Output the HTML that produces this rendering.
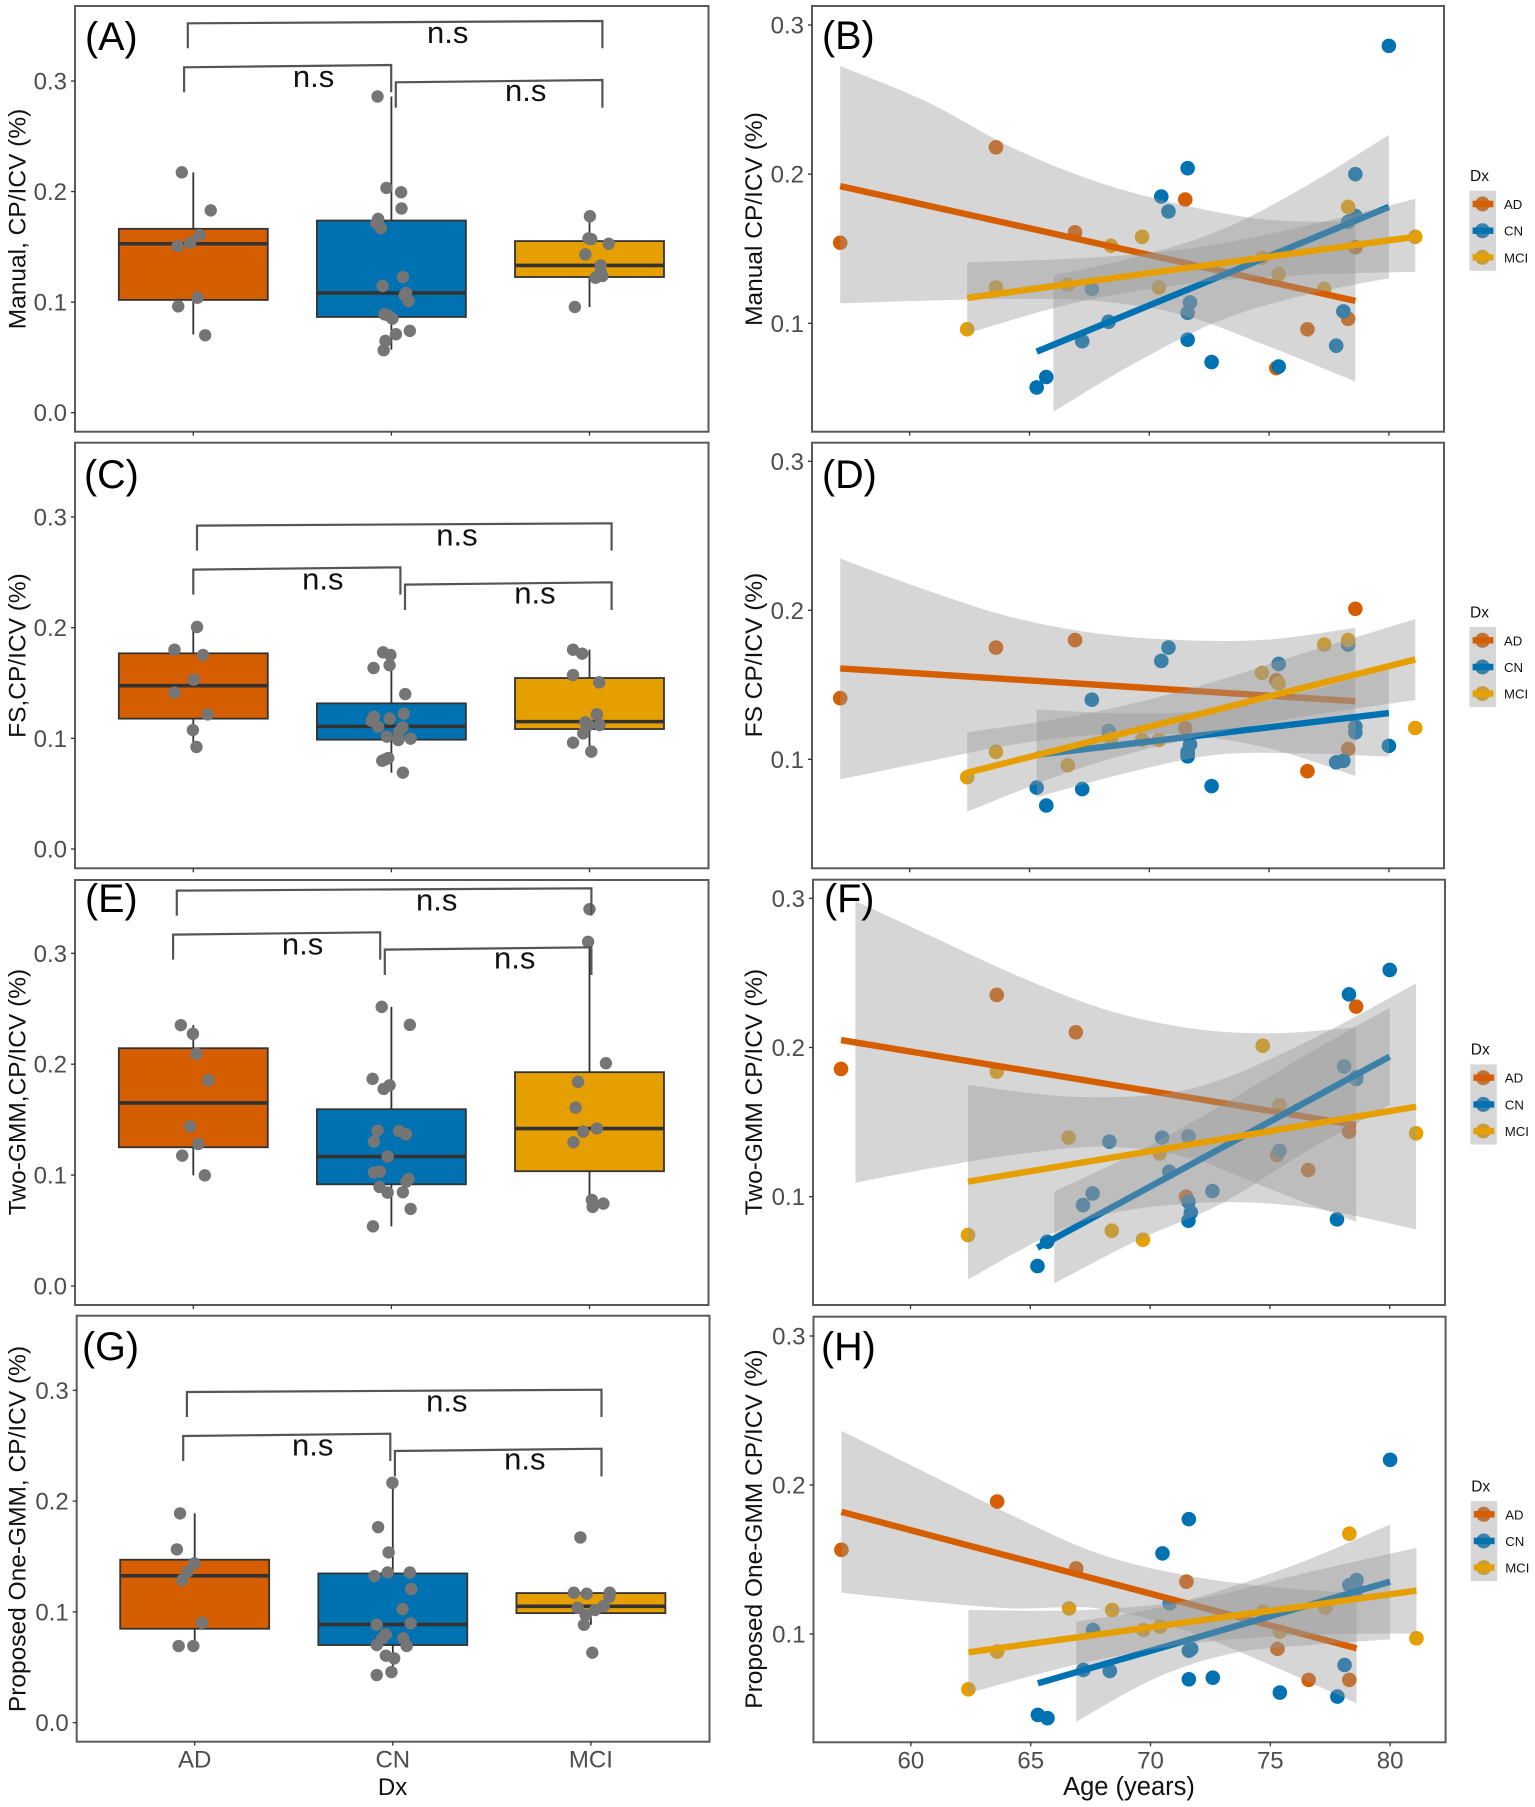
<!DOCTYPE html>
<html lang="en">
<head>
<meta charset="utf-8">
<title>CP/ICV by diagnosis and age</title>
<style>
html,body{margin:0;padding:0;background:#fff;}
svg{display:block;}
text{font-family:"Liberation Sans",Arial,sans-serif;}
.title{font-size:24.5px;fill:#111;}
.letter{font-size:39.5px;fill:#000;}
.ns{font-size:31px;fill:#111;text-anchor:middle;}
.bracket{fill:none;stroke:#555;stroke-width:2.2;}
.lt{font-size:15.5px;fill:#111;}
.ll{font-size:13.2px;fill:#111;}
.xt{font-size:24px;fill:#111;text-anchor:middle;}
</style>
</head>
<body>
<svg id="figure" xmlns="http://www.w3.org/2000/svg" width="1535" height="1807" viewBox="0 0 1535 1807">
<rect width="1535" height="1807" fill="#fff"/>
<g id="plots"></g>

<text class="letter" x="85" y="50">(A)</text>
<text class="letter" x="822" y="49">(B)</text>
<text class="letter" x="84" y="488">(C)</text>
<text class="letter" x="822" y="488">(D)</text>
<text class="letter" x="85" y="912">(E)</text>
<text class="letter" x="824" y="912">(F)</text>
<text class="letter" x="82" y="1360">(G)</text>
<text class="letter" x="821" y="1360">(H)</text>

<text class="title" text-anchor="middle" transform="translate(25.5,219) rotate(-90)">Manual, CP/ICV (%)</text>
<text class="title" text-anchor="middle" transform="translate(25.5,655.5) rotate(-90)">FS,CP/ICV (%)</text>
<text class="title" text-anchor="middle" transform="translate(25.5,1092) rotate(-90)">Two-GMM,CP/ICV (%)</text>
<text class="title" text-anchor="middle" transform="translate(25.5,1529) rotate(-90)">Proposed One-GMM, CP/ICV (%)</text>
<text class="title" text-anchor="middle" transform="translate(762,219) rotate(-90)">Manual CP/ICV (%)</text>
<text class="title" text-anchor="middle" transform="translate(762,655) rotate(-90)">FS CP/ICV (%)</text>
<text class="title" text-anchor="middle" transform="translate(762,1092) rotate(-90)">Two-GMM CP/ICV (%)</text>
<text class="title" text-anchor="middle" transform="translate(762,1529) rotate(-90)">Proposed One-GMM CP/ICV (%)</text>

<text class="xt" x="392.6" y="1795">Dx</text>
<text class="xt" x="1129" y="1795" style="font-size:25.5px">Age (years)</text>

<g id="annot-a">
<path class="bracket" d="M187.8 48.3V23.3L602.4 21V48.3"/>
<path class="bracket" d="M184.1 92.3V67.3L391.2 65V92.3"/>
<path class="bracket" d="M395.8 107.7V82.3L602.4 80V107.7"/>
<text class="ns" x="447.7" y="43">n.s</text>
<text class="ns" x="313.6" y="87">n.s</text>
<text class="ns" x="525.7" y="101">n.s</text>
</g>
<g id="annot-c" transform="translate(9.2,502.3)">
<path class="bracket" d="M187.8 48.3V23.3L602.4 21V48.3"/>
<path class="bracket" d="M184.1 92.3V67.3L391.2 65V92.3"/>
<path class="bracket" d="M395.8 107.7V82.3L602.4 80V107.7"/>
<text class="ns" x="447.7" y="43">n.s</text>
<text class="ns" x="313.6" y="87">n.s</text>
<text class="ns" x="525.7" y="101">n.s</text>
</g>
<g id="annot-e" transform="translate(-11,867.3)">
<path class="bracket" d="M187.8 48.3V23.3L602.4 21V48.3"/>
<path class="bracket" d="M184.1 92.3V67.3L391.2 65V92.3"/>
<path class="bracket" d="M395.8 107.7V82.3L602.4 80V107.7"/>
<text class="ns" x="447.7" y="43">n.s</text>
<text class="ns" x="313.6" y="87">n.s</text>
<text class="ns" x="525.7" y="101">n.s</text>
</g>
<g id="annot-g" transform="translate(-0.9,1368.7)">
<path class="bracket" d="M187.8 48.3V23.3L602.4 21V48.3"/>
<path class="bracket" d="M184.1 92.3V67.3L391.2 65V92.3"/>
<path class="bracket" d="M395.8 107.7V82.3L602.4 80V107.7"/>
<text class="ns" x="447.7" y="43">n.s</text>
<text class="ns" x="313.6" y="87">n.s</text>
<text class="ns" x="525.7" y="101">n.s</text>
</g>

<g id="legend-b">
<text class="lt" x="1470" y="181">Dx</text>
<g><circle cx="1482.5" cy="204" r="7.5" fill="#D55E00"/><rect x="1469.5" y="190.7" width="26.5" height="26.7" fill="#999" fill-opacity=".4"/><line x1="1472.6" x2="1493.4" y1="204" y2="204" stroke="#D55E00" stroke-width="6.4"/><text class="ll" x="1504" y="209">AD</text></g>
<g><circle cx="1482.5" cy="230.7" r="7.5" fill="#0072B2"/><rect x="1469.5" y="217.4" width="26.5" height="26.7" fill="#999" fill-opacity=".4"/><line x1="1472.6" x2="1493.4" y1="230.7" y2="230.7" stroke="#0072B2" stroke-width="6.4"/><text class="ll" x="1504" y="235.7">CN</text></g>
<g><circle cx="1482.5" cy="257.3" r="7.5" fill="#E69F00"/><rect x="1469.5" y="244.1" width="26.5" height="26.7" fill="#999" fill-opacity=".4"/><line x1="1472.6" x2="1493.4" y1="257.3" y2="257.3" stroke="#E69F00" stroke-width="6.4"/><text class="ll" x="1504" y="262.3">MCI</text></g>
</g>
<g id="legend-d" transform="translate(0,436.3)">
<text class="lt" x="1470" y="181">Dx</text>
<g><circle cx="1482.5" cy="204" r="7.5" fill="#D55E00"/><rect x="1469.5" y="190.7" width="26.5" height="26.7" fill="#999" fill-opacity=".4"/><line x1="1472.6" x2="1493.4" y1="204" y2="204" stroke="#D55E00" stroke-width="6.4"/><text class="ll" x="1504" y="209">AD</text></g>
<g><circle cx="1482.5" cy="230.7" r="7.5" fill="#0072B2"/><rect x="1469.5" y="217.4" width="26.5" height="26.7" fill="#999" fill-opacity=".4"/><line x1="1472.6" x2="1493.4" y1="230.7" y2="230.7" stroke="#0072B2" stroke-width="6.4"/><text class="ll" x="1504" y="235.7">CN</text></g>
<g><circle cx="1482.5" cy="257.3" r="7.5" fill="#E69F00"/><rect x="1469.5" y="244.1" width="26.5" height="26.7" fill="#999" fill-opacity=".4"/><line x1="1472.6" x2="1493.4" y1="257.3" y2="257.3" stroke="#E69F00" stroke-width="6.4"/><text class="ll" x="1504" y="262.3">MCI</text></g>
</g>
<g id="legend-f" transform="translate(0.8,873.7)">
<text class="lt" x="1470" y="181">Dx</text>
<g><circle cx="1482.5" cy="204" r="7.5" fill="#D55E00"/><rect x="1469.5" y="190.7" width="26.5" height="26.7" fill="#999" fill-opacity=".4"/><line x1="1472.6" x2="1493.4" y1="204" y2="204" stroke="#D55E00" stroke-width="6.4"/><text class="ll" x="1504" y="209">AD</text></g>
<g><circle cx="1482.5" cy="230.7" r="7.5" fill="#0072B2"/><rect x="1469.5" y="217.4" width="26.5" height="26.7" fill="#999" fill-opacity=".4"/><line x1="1472.6" x2="1493.4" y1="230.7" y2="230.7" stroke="#0072B2" stroke-width="6.4"/><text class="ll" x="1504" y="235.7">CN</text></g>
<g><circle cx="1482.5" cy="257.3" r="7.5" fill="#E69F00"/><rect x="1469.5" y="244.1" width="26.5" height="26.7" fill="#999" fill-opacity=".4"/><line x1="1472.6" x2="1493.4" y1="257.3" y2="257.3" stroke="#E69F00" stroke-width="6.4"/><text class="ll" x="1504" y="262.3">MCI</text></g>
</g>
<g id="legend-h" transform="translate(1.2,1310.3)">
<text class="lt" x="1470" y="181">Dx</text>
<g><circle cx="1482.5" cy="204" r="7.5" fill="#D55E00"/><rect x="1469.5" y="190.7" width="26.5" height="26.7" fill="#999" fill-opacity=".4"/><line x1="1472.6" x2="1493.4" y1="204" y2="204" stroke="#D55E00" stroke-width="6.4"/><text class="ll" x="1504" y="209">AD</text></g>
<g><circle cx="1482.5" cy="230.7" r="7.5" fill="#0072B2"/><rect x="1469.5" y="217.4" width="26.5" height="26.7" fill="#999" fill-opacity=".4"/><line x1="1472.6" x2="1493.4" y1="230.7" y2="230.7" stroke="#0072B2" stroke-width="6.4"/><text class="ll" x="1504" y="235.7">CN</text></g>
<g><circle cx="1482.5" cy="257.3" r="7.5" fill="#E69F00"/><rect x="1469.5" y="244.1" width="26.5" height="26.7" fill="#999" fill-opacity=".4"/><line x1="1472.6" x2="1493.4" y1="257.3" y2="257.3" stroke="#E69F00" stroke-width="6.4"/><text class="ll" x="1504" y="262.3">MCI</text></g>
</g>
</svg>

<script>
// ---------- shared categories, ticks ----------
const categories = ['AD', 'CN', 'MCI'];
const leftYTicks = [0, 0.1, 0.2, 0.3];
const rightYTicks = [0.1, 0.2, 0.3];
const ageTicks = [60, 65, 70, 75, 80];
const groupColors = ['#D55E00', '#0072B2', '#E69F00'];
const scatterYMax = 0.3; // the age panels drop values above this limit

// ---------- box panels: stats are [whisker low, q1, median, q3, whisker high] ----------
const aAdBox = [0.0707, 0.102, 0.1528, 0.1663, 0.2174];
const aCnBox = [0.0571, 0.0866, 0.1083, 0.1738, 0.286];
const aMciBox = [0.0956, 0.1227, 0.1332, 0.1552, 0.1777];
const aAdValues = [0.2174, 0.183, 0.1606, 0.1537, 0.1507, 0.104, 0.0962, 0.07];
const aAdJitter = [-0.058, 0.088, 0.032, -0.016, -0.079, 0.021, -0.076, 0.06];
const aCnValues = [0.286, 0.2033, 0.1994, 0.1847, 0.1753, 0.1714, 0.1669, 0.1227, 0.1146, 0.1083, 0.1062, 0.1011, 0.089, 0.0881, 0.0851, 0.071, 0.074, 0.065, 0.0565];
const aCnJitter = [-0.07, -0.025, 0.049, 0.051, -0.067, -0.076, -0.053, 0.058, -0.044, 0.074, 0.067, 0.086, -0.035, -0.019, 0.005, 0.023, 0.093, -0.03, -0.039];
const aMciValues = [0.1777, 0.1576, 0.157, 0.1528, 0.1432, 0.1332, 0.1272, 0.1227, 0.1236, 0.1221, 0.0956];
const aMciJitter = [0.002, -0.005, 0.009, 0.097, -0.021, 0.056, 0.056, 0.037, 0.065, 0.03, -0.074];

const cAdBox = [0.0922, 0.1178, 0.1476, 0.1768, 0.2006];
const cCnBox = [0.069, 0.0988, 0.1108, 0.1316, 0.1777];
const cMciBox = [0.088, 0.1084, 0.1151, 0.1545, 0.1801];
const cAdValues = [0.2006, 0.1801, 0.1753, 0.153, 0.1413, 0.1217, 0.1075, 0.0922];
const cAdJitter = [0.019, -0.095, 0.049, 0.002, -0.095, 0.072, -0.002, 0.016];
const cCnValues = [0.1777, 0.1753, 0.166, 0.1636, 0.14, 0.1223, 0.1196, 0.1178, 0.1157, 0.1105, 0.11, 0.106, 0.1015, 0.0985, 0.0997, 0.0822, 0.0798, 0.069, 0.081];
const cCnJitter = [-0.042, -0.005, -0.009, -0.09, 0.07, 0.063, -0.088, -0.009, -0.1, -0.067, 0.056, 0.039, -0.023, 0.035, 0.097, -0.016, -0.046, 0.058, -0.03];
const cMciValues = [0.1801, 0.1765, 0.1572, 0.1506, 0.1217, 0.1145, 0.112, 0.112, 0.1045, 0.0961, 0.088];
const cMciJitter = [-0.083, -0.037, -0.083, 0.049, 0.037, -0.021, -0.005, 0.051, -0.032, -0.083, 0.009];

const eAdBox = [0.0998, 0.1251, 0.1651, 0.2144, 0.2352];
const eCnBox = [0.0538, 0.0917, 0.1167, 0.1594, 0.2517];
const eMciBox = [0.0713, 0.1035, 0.142, 0.1928, 0.3104];
const eAdValues = [0.2352, 0.2274, 0.2096, 0.1856, 0.1438, 0.1281, 0.1176, 0.0998];
const eAdJitter = [-0.063, -0.002, 0.016, 0.076, -0.016, 0.025, -0.056, 0.058];
const eCnValues = [0.2517, 0.2355, 0.1868, 0.181, 0.1777, 0.1402, 0.1398, 0.1368, 0.1302, 0.1167, 0.1023, 0.1032, 0.0965, 0.0941, 0.0893, 0.0842, 0.0845, 0.0695, 0.0538];
const eCnJitter = [-0.049, 0.093, -0.095, -0.009, -0.039, -0.07, 0.039, 0.074, -0.088, -0.019, -0.088, -0.058, 0.086, 0.076, -0.06, -0.019, 0.058, 0.097, -0.093];
const eMciValues = [0.3398, 0.3104, 0.2009, 0.1841, 0.1609, 0.142, 0.1392, 0.1296, 0.0776, 0.0743, 0.0713];
const eMciJitter = [0, -0.007, 0.083, -0.058, -0.07, 0.037, -0.032, -0.081, 0.012, 0.07, 0.016];

const gAdBox = [0.0692, 0.0848, 0.1326, 0.1471, 0.1889];
const gCnBox = [0.043, 0.0701, 0.0887, 0.1347, 0.2165];
const gMciBox = [0.0884, 0.0989, 0.105, 0.117, 0.118];
const gAdValues = [0.1889, 0.1564, 0.1438, 0.1362, 0.1287, 0.0902, 0.0692, 0.0692];
const gAdJitter = [-0.074, -0.09, -0.002, -0.037, -0.063, 0.037, -0.081, -0.007];
const gCnValues = [0.2165, 0.1765, 0.1537, 0.1356, 0.1356, 0.1323, 0.1206, 0.1026, 0.0884, 0.0896, 0.0797, 0.0761, 0.0761, 0.0701, 0.0692, 0.0605, 0.058, 0.0457, 0.043];
const gCnJitter = [-0.002, -0.074, -0.021, 0.086, -0.026, -0.093, 0.093, 0.049, -0.081, 0.09, -0.035, -0.053, 0.053, -0.081, 0.07, -0.035, 0.007, -0.007, -0.081];
const gMciValues = [0.1672, 0.1173, 0.1164, 0.1173, 0.1137, 0.1053, 0.1038, 0.1017, 0.0971, 0.0884, 0.0632];
const gMciJitter = [-0.053, -0.086, -0.021, 0.095, 0.093, 0.065, -0.067, 0.021, -0.026, -0.035, 0.007];

// ---------- scatter panels: subject ages ----------
const adAges = [57.1, 63.6, 66.9, 71.5, 75.3, 76.6, 78.3, 78.6];
const cnAges = [65.3, 65.7, 67.2, 67.6, 68.3, 70.5, 70.8, 71.6, 71.6, 71.6, 71.7, 72.6, 75.4, 77.8, 78.1, 78.3, 78.6, 78.6, 80];
const mciAges = [62.4, 63.6, 66.6, 68.4, 69.7, 70.4, 74.7, 75.4, 77.3, 78.3, 81.1];
const adFitAges = [57.1, 78.6];
const cnFitAges = [65.3, 80];
const mciFitAges = [62.4, 81.1];

// panel B
const bAd = [0.154, 0.218, 0.161, 0.183, 0.07, 0.096, 0.103, 0.151];
const bCn = [0.057, 0.064, 0.088, 0.123, 0.101, 0.185, 0.175, 0.204, 0.107, 0.089, 0.114, 0.074, 0.071, 0.085, 0.108, 0.168, 0.2, 0.172, 0.286];
const bMci = [0.096, 0.124, 0.126, 0.152, 0.158, 0.124, 0.144, 0.133, 0.123, 0.178, 0.158];
const bAdFit = [0.192, 0.115];
const bCnFit = [0.081, 0.178];
const bMciFit = [0.117, 0.158];
const bAdBandAges = [57.1, 60.7, 64.2, 67.8, 71.4, 75, 78.6];
const bAdUpper = [0.2725, 0.2486, 0.2184, 0.195, 0.1793, 0.1693, 0.1682];
const bAdLower = [0.1134, 0.1152, 0.1163, 0.115, 0.1056, 0.0844, 0.0609];
const bCnBandAges = [66, 69.5, 73, 76.5, 80];
const bCnUpper = [0.132, 0.1447, 0.1626, 0.1916, 0.2263];
const bCnLower = [0.0408, 0.0743, 0.1022, 0.119, 0.1302];
const bMciBandAges = [62.4, 67.1, 71.75, 76.4, 81.1];
const bMciUpper = [0.1409, 0.1436, 0.1503, 0.1648, 0.1834];
const bMciLower = [0.0933, 0.1145, 0.1268, 0.1324, 0.1346];

// panel D
const dAd = [0.141, 0.175, 0.18, 0.121, 0.153, 0.092, 0.107, 0.201];
const dCn = [0.081, 0.069, 0.08, 0.14, 0.119, 0.166, 0.175, 0.105, 0.102, 0.104, 0.11, 0.082, 0.164, 0.098, 0.099, 0.177, 0.122, 0.118, 0.109];
const dMci = [0.088, 0.105, 0.096, 0.114, 0.113, 0.113, 0.158, 0.151, 0.177, 0.18, 0.121];
const dAdFit = [0.161, 0.139];
const dCnFit = [0.103, 0.131];
const dMciFit = [0.091, 0.167];
const dAdBandAges = [57.1, 60.7, 64.2, 67.8, 71.4, 75, 78.6];
const dAdUpper = [0.2347, 0.2135, 0.1956, 0.1845, 0.18, 0.1804, 0.1883];
const dAdLower = [0.0866, 0.0984, 0.1096, 0.1163, 0.1163, 0.1074, 0.0888];
const dCnBandAges = [65.3, 69, 72.7, 76.3, 80];
const dCnUpper = [0.1335, 0.1308, 0.1331, 0.1443, 0.161];
const dCnLower = [0.0745, 0.0906, 0.1029, 0.104, 0.1018];
const dMciBandAges = [62.4, 67.1, 71.75, 76.4, 81.1];
const dMciUpper = [0.1181, 0.1297, 0.1476, 0.1711, 0.1941];
const dMciLower = [0.0649, 0.094, 0.1141, 0.1286, 0.1398];

// panel F
const fAd = [0.1856, 0.2352, 0.2102, 0.1, 0.1279, 0.1179, 0.1436, 0.2274];
const fCn = [0.0535, 0.0698, 0.0944, 0.1022, 0.1369, 0.1396, 0.1168, 0.1404, 0.0966, 0.0839, 0.0895, 0.1038, 0.1308, 0.0848, 0.1872, 0.2356, 0.1789, 0.18, 0.252];
const fMci = [0.0743, 0.1838, 0.1396, 0.0772, 0.0712, 0.129, 0.2012, 0.1615, 0.31, 0.34, 0.1425];
const fAdFit = [0.205, 0.148];
const fCnFit = [0.0658, 0.1939];
const fMciFit = [0.1101, 0.1603];
const fAdBandAges = [57.7, 61.2, 64.7, 68.2, 71.7, 75.1, 78.6];
const fAdUpper = [0.2982, 0.2721, 0.2464, 0.2251, 0.2128, 0.2095, 0.2135];
const fAdLower = [0.1094, 0.1201, 0.129, 0.1335, 0.1257, 0.1045, 0.0832];
const fCnBandAges = [66, 69.5, 73, 76.5, 80];
const fCnUpper = [0.1034, 0.1302, 0.1615, 0.195, 0.2267];
const fCnLower = [0.0419, 0.071, 0.0955, 0.1302, 0.1615];
const fMciBandAges = [62.4, 67.1, 71.75, 76.4, 81.1];
const fMciUpper = [0.1749, 0.1668, 0.1726, 0.2028, 0.243];
const fMciLower = [0.0446, 0.0832, 0.0955, 0.0933, 0.0781];

// panel H
const hAd = [0.1565, 0.1889, 0.144, 0.1351, 0.09, 0.0692, 0.0692, 0.13];
const hCn = [0.0457, 0.0435, 0.0759, 0.1027, 0.0752, 0.1541, 0.1206, 0.1771, 0.0696, 0.0888, 0.09, 0.0707, 0.0607, 0.058, 0.0792, 0.1328, 0.1362, 0.13, 0.2169];
const hMci = [0.0629, 0.0882, 0.1172, 0.1161, 0.1027, 0.1049, 0.115, 0.1016, 0.1177, 0.1673, 0.0971];
const hAdFit = [0.182, 0.0904];
const hCnFit = [0.0669, 0.1351];
const hMciFit = [0.0877, 0.1291];
const hAdBandAges = [57.1, 60.7, 64.2, 67.8, 71.4, 75, 78.6];
const hAdUpper = [0.2363, 0.2077, 0.1798, 0.1541, 0.1396, 0.1317, 0.1273];
const hAdLower = [0.1277, 0.1217, 0.1172, 0.1172, 0.1027, 0.0792, 0.0535];
const hCnBandAges = [66.9, 70.2, 73.4, 76.7, 80];
const hCnUpper = [0.1083, 0.1172, 0.1317, 0.1507, 0.1735];
const hCnLower = [0.0412, 0.0703, 0.087, 0.0926, 0.0964];
const hMciBandAges = [62.4, 67.1, 71.75, 76.4, 81.1];
const hMciUpper = [0.1161, 0.1161, 0.1228, 0.1407, 0.1579];
const hMciLower = [0.0602, 0.0803, 0.0937, 0.0993, 0.1004];

// ---------- drawing ----------
const SVGNS = 'http://www.w3.org/2000/svg';
const root = document.getElementById('plots');

function add(parent, tag, attrs) {
  const el = document.createElementNS(SVGNS, tag);
  for (const k in attrs) el.setAttribute(k, attrs[k]);
  parent.appendChild(el);
  return el;
}

function smoothThrough(pts) {
  let d = '';
  for (let i = 0; i < pts.length - 1; i++) {
    const p0 = pts[i - 1] || pts[i], p1 = pts[i], p2 = pts[i + 1], p3 = pts[i + 2] || p2;
    d += 'C' + (p1[0] + (p2[0] - p0[0]) / 6) + ' ' + (p1[1] + (p2[1] - p0[1]) / 6) + ' ' +
      (p2[0] - (p3[0] - p1[0]) / 6) + ' ' + (p2[1] - (p3[1] - p1[1]) / 6) + ' ' + p2[0] + ' ' + p2[1];
  }
  return d;
}

function drawFrame(g, p) {
  const border = add(g, 'rect', {x: p.left, y: p.top, width: p.right - p.left, height: p.bottom - p.top, fill: 'none', stroke: '#5a5a5a', 'stroke-width': 2});
  
  
}

function drawYAxis(g, p, ticks, y, labelX) {
  ticks.forEach(t => {
    const tick = add(g, 'line', {x1: p.left - 4, x2: p.left, y1: y(t), y2: y(t), stroke: '#333', 'stroke-width': 1.3});
    
    
    const label = add(g, 'text', {x: labelX, y: y(t) + 8.5, 'text-anchor': 'end', 'font-size': 24, fill: '#4d4d4d'});
    label.textContent = t.toFixed(1);
    
    
  });
}

function drawBoxPanel(p) {
  const g = add(root, 'g', {});
  
  
  const y = v => p.y0 + (p.y3 - p.y0) * v / 0.3;
  const x = c => p.cat0 + c * 198.1;
  const halfBox = 0.376;
  p.groups.forEach((grp, i) => {
    const [lo, q1, med, q3, hi] = grp.box;
    const whisker = add(g, 'line', {x1: x(i), x2: x(i), y1: y(lo), y2: y(hi), stroke: '#333', 'stroke-width': 1.8});
    
    
    const box = add(g, 'rect', {x: x(i - halfBox), y: y(q3), width: x(i + halfBox) - x(i - halfBox), height: y(q1) - y(q3), fill: groupColors[i], stroke: '#333', 'stroke-width': 1.8});
    
    
    const median = add(g, 'line', {x1: x(i - halfBox), x2: x(i + halfBox), y1: y(med), y2: y(med), stroke: '#333', 'stroke-width': 3.6});
    
    
  });
  p.groups.forEach((grp, i) => {
    grp.values.forEach((v, j) => {
      const dot = add(g, 'circle', {cx: x(i + grp.jitter[j]), cy: y(v), r: 6.2, fill: '#757575'});
      
      
    });
  });
  drawFrame(g, p);
  categories.forEach((c, i) => {
    const tick = add(g, 'line', {x1: x(i), x2: x(i), y1: p.bottom, y2: p.bottom + 4, stroke: '#333', 'stroke-width': 1.3});
    
    
    if (p.showX) {
      const label = add(g, 'text', {x: x(i), y: p.bottom + 26, 'text-anchor': 'middle', 'font-size': 24, fill: '#4d4d4d'});
      label.textContent = c;
      
      
    }
  });
  drawYAxis(g, p, leftYTicks, y, p.left - 8);
}

function drawScatterPanel(p) {
  const g = add(root, 'g', {});
  
  
  const y = v => p.y1 + (p.y3 - p.y1) * (v - 0.1) / 0.2;
  const x = a => p.x60 + (a - 60) * 23.96;
  const clip = add(g, 'clipPath', {id: 'clip-' + p.id});
  add(clip, 'rect', {x: p.left, y: p.top, width: p.right - p.left, height: p.bottom - p.top});
  const plot = add(g, 'g', {'clip-path': 'url(#clip-' + p.id + ')'});
  
  
  p.series.forEach((s, i) => {
    s.values.forEach((v, j) => {
      if (v > scatterYMax) return;
      const dot = add(plot, 'circle', {cx: x(s.ages[j]), cy: y(v), r: 7.3, fill: groupColors[i]});
      
      
    });
  });
  p.series.forEach((s, i) => {
    const up = s.bandAges.map((a, j) => [x(a), y(s.upper[j])]);
    const low = s.bandAges.map((a, j) => [x(a), y(s.lower[j])]).reverse();
    const d = 'M' + up[0].join(' ') + smoothThrough(up) + 'L' + low[0].join(' ') + smoothThrough(low) + 'Z';
    const band = add(plot, 'path', {d: d, fill: '#999999', 'fill-opacity': 0.4});
    
    
    const fit = add(plot, 'line', {x1: x(s.fitAges[0]), x2: x(s.fitAges[1]), y1: y(s.fit[0]), y2: y(s.fit[1]), stroke: groupColors[i], 'stroke-width': 6.4});
    
    
  });
  drawFrame(g, p);
  ageTicks.forEach(a => {
    const tick = add(g, 'line', {x1: x(a), x2: x(a), y1: p.bottom, y2: p.bottom + 4, stroke: '#333', 'stroke-width': 1.3});
    
    
    if (p.showX) {
      const label = add(g, 'text', {x: x(a), y: p.bottom + 26, 'text-anchor': 'middle', 'font-size': 24, fill: '#4d4d4d'});
      label.textContent = String(a);
      
      
    }
  });
  drawYAxis(g, p, rightYTicks, y, p.left - 8);
}

function boxGroups(boxes, values, jitters) {
  return boxes.map((b, i) => ({box: b, values: values[i], jitter: jitters[i]}));
}

drawBoxPanel({id: 'a', left: 75, right: 708.5, top: 6, bottom: 431.7, y0: 412.7, y3: 81, cat0: 193.3, showX: false,
  groups: boxGroups([aAdBox, aCnBox, aMciBox], [aAdValues, aCnValues, aMciValues], [aAdJitter, aCnJitter, aMciJitter])});
drawBoxPanel({id: 'c', left: 75, right: 708.5, top: 442.7, bottom: 868.3, y0: 849, y3: 517, cat0: 193.3, showX: false,
  groups: boxGroups([cAdBox, cCnBox, cMciBox], [cAdValues, cCnValues, cMciValues], [cAdJitter, cCnJitter, cMciJitter])});
drawBoxPanel({id: 'e', left: 75, right: 708.5, top: 880, bottom: 1305, y0: 1286, y3: 953.3, cat0: 193.3, showX: false,
  groups: boxGroups([eAdBox, eCnBox, eMciBox], [eAdValues, eCnValues, eMciValues], [eAdJitter, eCnJitter, eMciJitter])});
drawBoxPanel({id: 'g', left: 76.7, right: 709.5, top: 1315.7, bottom: 1741.7, y0: 1722.7, y3: 1390.3, cat0: 194.7, showX: true,
  groups: boxGroups([gAdBox, gCnBox, gMciBox], [gAdValues, gCnValues, gMciValues], [gAdJitter, gCnJitter, gMciJitter])});

drawScatterPanel({id: 'b', left: 812, right: 1444, top: 6, bottom: 431.7, y1: 323.3, y3: 25, x60: 909.7, showX: false, series: [
  {ages: adAges, values: bAd, fitAges: adFitAges, fit: bAdFit, bandAges: bAdBandAges, upper: bAdUpper, lower: bAdLower},
  {ages: cnAges, values: bCn, fitAges: cnFitAges, fit: bCnFit, bandAges: bCnBandAges, upper: bCnUpper, lower: bCnLower},
  {ages: mciAges, values: bMci, fitAges: mciFitAges, fit: bMciFit, bandAges: bMciBandAges, upper: bMciUpper, lower: bMciLower}]});
drawScatterPanel({id: 'd', left: 812, right: 1444, top: 442.7, bottom: 868.3, y1: 759.3, y3: 461.3, x60: 909.7, showX: false, series: [
  {ages: adAges, values: dAd, fitAges: adFitAges, fit: dAdFit, bandAges: dAdBandAges, upper: dAdUpper, lower: dAdLower},
  {ages: cnAges, values: dCn, fitAges: cnFitAges, fit: dCnFit, bandAges: dCnBandAges, upper: dCnUpper, lower: dCnLower},
  {ages: mciAges, values: dMci, fitAges: mciFitAges, fit: dMciFit, bandAges: dMciBandAges, upper: dMciUpper, lower: dMciLower}]});
drawScatterPanel({id: 'f', left: 813, right: 1445, top: 879.7, bottom: 1305, y1: 1196.7, y3: 898.3, x60: 910.5, showX: false, series: [
  {ages: adAges, values: fAd, fitAges: adFitAges, fit: fAdFit, bandAges: fAdBandAges, upper: fAdUpper, lower: fAdLower},
  {ages: cnAges, values: fCn, fitAges: cnFitAges, fit: fCnFit, bandAges: fCnBandAges, upper: fCnUpper, lower: fCnLower},
  {ages: mciAges, values: fMci, fitAges: mciFitAges, fit: fMciFit, bandAges: fMciBandAges, upper: fMciUpper, lower: fMciLower}]});
drawScatterPanel({id: 'h', left: 813.5, right: 1445.6, top: 1316.7, bottom: 1742.3, y1: 1634, y3: 1336, x60: 910.9, showX: true, series: [
  {ages: adAges, values: hAd, fitAges: adFitAges, fit: hAdFit, bandAges: hAdBandAges, upper: hAdUpper, lower: hAdLower},
  {ages: cnAges, values: hCn, fitAges: cnFitAges, fit: hCnFit, bandAges: hCnBandAges, upper: hCnUpper, lower: hCnLower},
  {ages: mciAges, values: hMci, fitAges: mciFitAges, fit: hMciFit, bandAges: hMciBandAges, upper: hMciUpper, lower: hMciLower}]});
</script>
</body>
</html>
